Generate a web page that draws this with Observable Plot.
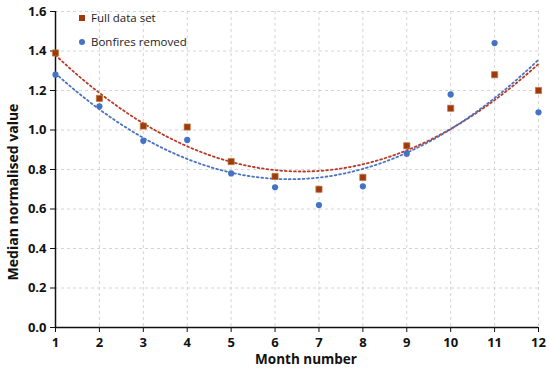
<!DOCTYPE html>
<html><head><meta charset="utf-8">
<script src="https://cdn.jsdelivr.net/npm/d3@7"></script>
<script src="https://cdn.jsdelivr.net/npm/@observablehq/plot@0.6"></script>
<style>
body{margin:0;background:#fff;}
#wrap{position:relative;width:550px;height:371px;font-family:"Open Sans",sans-serif;}
.leg{position:absolute;font-size:11.5px;color:#222;display:flex;align-items:center;line-height:14px;}
.sq{width:6px;height:6px;background:#9E3A10;margin-right:6px;}
.ci{width:6px;height:6px;border-radius:50%;background:#4472C4;margin-right:6px;}
.ttl{position:absolute;font-weight:bold;color:#111;white-space:nowrap;line-height:16px;}
</style></head>
<body><div id="wrap"></div>
<script>
const months = [1,2,3,4,5,6,7,8,9,10,11,12];
const fullData = [1.39,1.16,1.02,1.015,0.84,0.765,0.70,0.76,0.92,1.11,1.28,1.20];
const bonfiresRemoved = [1.28,1.12,0.945,0.95,0.78,0.71,0.62,0.715,0.88,1.18,1.44,1.09];
const yTicks = [0,0.2,0.4,0.6,0.8,1.0,1.2,1.4,1.6];
const seriesNames = ["Full data set","Bonfires removed"];
const xTitle = "Month number", yTitle = "Median normalised value";

// Quadratic least-squares trend (like Excel's polynomial order 2 trendline)
function quadFit(xs, ys){
  let S=[0,0,0,0,0], T=[0,0,0];
  xs.forEach((x,i)=>{for(let k=0;k<5;k++)S[k]+=x**k;for(let k=0;k<3;k++)T[k]+=ys[i]*x**k;});
  const A=[[S[0],S[1],S[2],T[0]],[S[1],S[2],S[3],T[1]],[S[2],S[3],S[4],T[2]]];
  for(let i=0;i<3;i++){for(let j=i+1;j<3;j++){const f=A[j][i]/A[i][i];for(let k=i;k<4;k++)A[j][k]-=f*A[i][k];}}
  const c=[0,0,0];
  for(let i=2;i>=0;i--){let s=A[i][3];for(let k=i+1;k<3;k++)s-=A[i][k]*c[k];c[i]=s/A[i][i];}
  return x=>c[0]+c[1]*x+c[2]*x*x;
}
const fFull = quadFit(months, fullData), fBon = quadFit(months, bonfiresRemoved);
const xs = d3.range(1, 12.001, 0.1);
const trendFull = xs.map(x=>({x, y:fFull(x)}));
const trendBon = xs.map(x=>({x, y:fBon(x)}));
const full = months.map((m,i)=>({m, v:fullData[i]}));
const bon = months.map((m,i)=>({m, v:bonfiresRemoved[i]}));

const chart = Plot.plot({
  width:550, height:371,
  marginLeft:55, marginRight:12, marginTop:11, marginBottom:44,
  style:{fontFamily:"'Open Sans',sans-serif", background:"#fff"},
  x:{domain:[1,12]},
  y:{domain:[0,1.6]},
  marks:[
    Plot.gridX(months,{stroke:"#d4d4d4", strokeOpacity:1, strokeDasharray:"3,3"}),
    Plot.gridY(yTicks.slice(1),{stroke:"#d4d4d4", strokeOpacity:1, strokeDasharray:"3,3"}),
    Plot.axisX(months,{tickSize:5, fontSize:13, fontWeight:"bold", tickPadding:5, label:null, color:"#111"}),
    Plot.axisY(yTicks,{tickSize:5, fontSize:13, fontWeight:"bold", tickFormat:".1f", tickPadding:4, label:null, color:"#111"}),
    Plot.ruleX([1],{stroke:"#111", strokeWidth:1.5}),
    Plot.ruleY([0],{stroke:"#111", strokeWidth:1.5}),
    Plot.line(trendFull,{x:"x", y:"y", stroke:"#B83A26", strokeWidth:1.8, strokeDasharray:"1.8,2.8"}),
    Plot.line(trendBon,{x:"x", y:"y", stroke:"#4A72C0", strokeWidth:1.8, strokeDasharray:"1.8,2.8"}),
    Plot.dot(full,{x:"m", y:"v", symbol:"square", r:3.5, fill:"#9E3A10", stroke:"#C07A3A", strokeWidth:0.7}),
    Plot.dot(bon,{x:"m", y:"v", symbol:"circle", r:3.1, fill:"#4472C4", stroke:"none"})
  ]
});
const wrap = document.getElementById("wrap");
wrap.appendChild(chart);
const l1 = document.createElement("div"); l1.className="leg"; l1.style.left="79px"; l1.style.top="11px";
l1.innerHTML='<span class="sq"></span>'+seriesNames[0];
const l2 = document.createElement("div"); l2.className="leg"; l2.style.left="79px"; l2.style.top="35px";
l2.innerHTML='<span class="ci"></span>'+seriesNames[1];
const xt = document.createElement("div"); xt.className="ttl"; xt.textContent=xTitle;
xt.style.fontSize="13.5px"; xt.style.left="306px"; xt.style.top="351px"; xt.style.transform="translateX(-50%)";
const yt = document.createElement("div"); yt.className="ttl"; yt.textContent=yTitle;
yt.style.fontSize="14px"; yt.style.left="13px"; yt.style.top="192px"; yt.style.transform="translate(-50%,-50%) rotate(-90deg)";
[l1,l2,xt,yt].forEach(e=>wrap.appendChild(e));
</script></body></html>
